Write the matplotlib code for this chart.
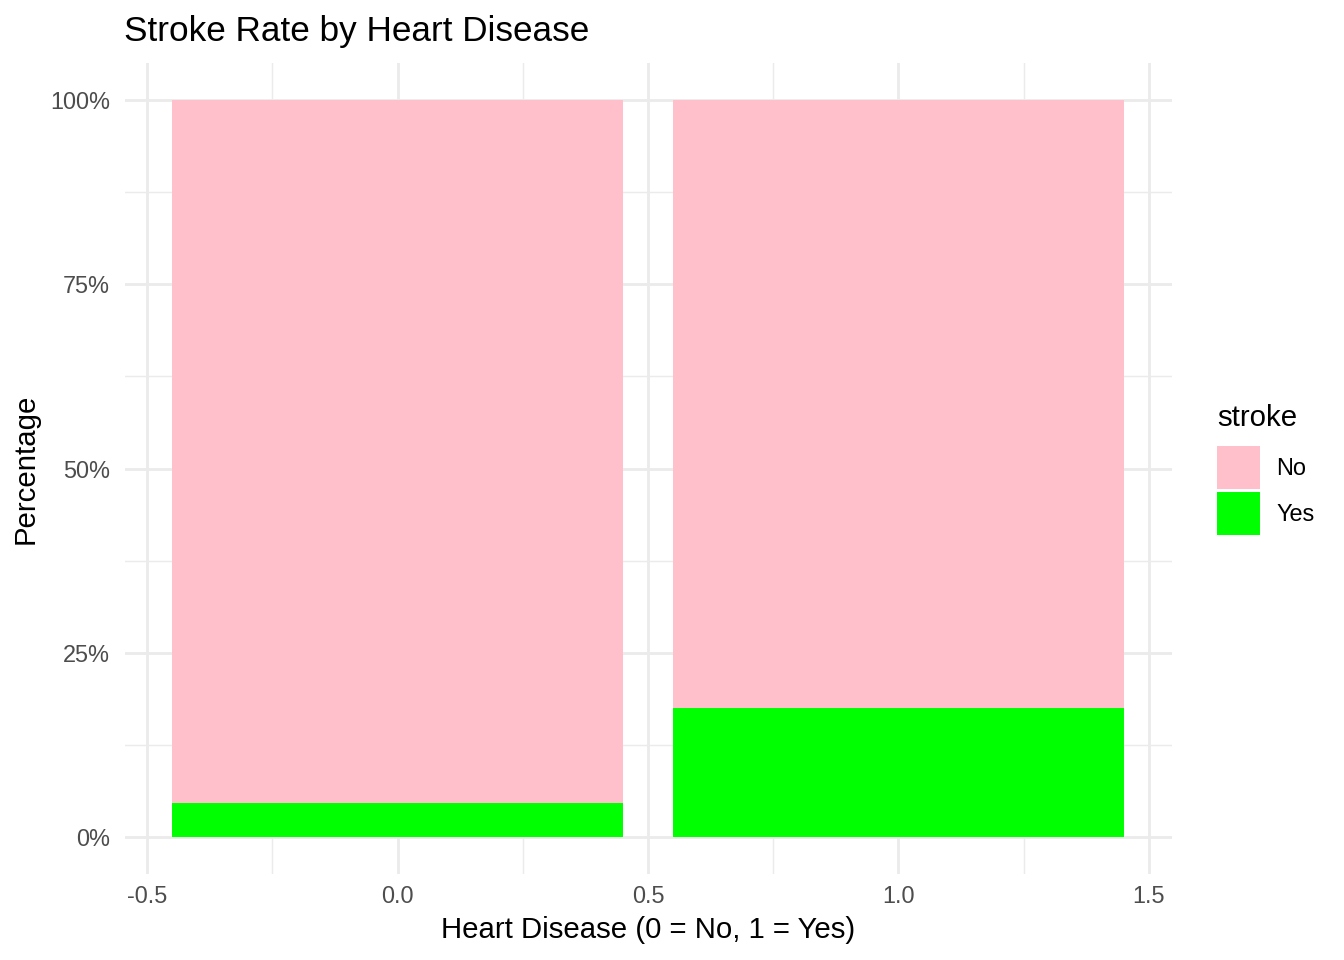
import matplotlib.pyplot as plt
from matplotlib.ticker import FixedLocator, PercentFormatter

heart_disease = [0, 1]
stroke_yes = [4.6, 17.5]          # percent with stroke
stroke_no = [100 - v for v in stroke_yes]
labels = ['No', 'Yes']
colors = ['pink', '#00ff00']

plt.rcParams['font.family'] = ['Liberation Sans', 'DejaVu Sans']

fig = plt.figure(figsize=(7, 5), dpi=192)
ax = fig.add_axes([124.5 / 1344, 86.15 / 960, 1047 / 1344, 810.7 / 960])

b_yes = ax.bar(heart_disease, stroke_yes, width=0.9, color=colors[1], label=labels[1], zorder=3)
b_no = ax.bar(heart_disease, stroke_no, width=0.9, bottom=stroke_yes, color=colors[0],
              label=labels[0], zorder=3)

ax.set_xlim(-0.545, 1.545)
ax.set_ylim(-5, 105)

ax.xaxis.set_major_locator(FixedLocator([-0.5, 0, 0.5, 1, 1.5]))
ax.xaxis.set_minor_locator(FixedLocator([-0.25, 0.25, 0.75, 1.25]))
ax.yaxis.set_major_locator(FixedLocator([0, 25, 50, 75, 100]))
ax.yaxis.set_minor_locator(FixedLocator([12.5, 37.5, 62.5, 87.5]))
ax.set_xticklabels(['-0.5', '0.0', '0.5', '1.0', '1.5'])
ax.yaxis.set_major_formatter(PercentFormatter(decimals=0))

ax.grid(which='major', color='#ebebeb', linewidth=1.07, zorder=0)
ax.grid(which='minor', color='#ebebeb', linewidth=0.53, zorder=0)
ax.set_axisbelow(True)
for s in ax.spines.values():
    s.set_visible(False)
ax.tick_params(which='both', length=0, labelsize=8.8, labelcolor='#4d4d4d')
ax.tick_params(axis='y', pad=5.4)
ax.tick_params(axis='x', pad=4.1)

ax.set_title('Stroke Rate by Heart Disease', loc='left', fontsize=13.2, pad=8.2)
ax.set_xlabel('Heart Disease (0 = No, 1 = Yes)', fontsize=11, labelpad=3)
ax.set_ylabel('Percentage', fontsize=11, labelpad=3.8)

leg = ax.legend([b_no, b_yes], labels, title='stroke', loc='upper left',
                bbox_to_anchor=(1208 / 1344, 1 - 395 / 960), bbox_transform=fig.transFigure,
                frameon=False, fontsize=8.8, title_fontsize=11,
                handlelength=1.8, handleheight=2.44, labelspacing=0.13, handletextpad=0.72,
                borderaxespad=0, alignment='left')
leg._legend_box.sep = 5.2  # gap between legend title and keys

fig.savefig('out.png', dpi=192)
